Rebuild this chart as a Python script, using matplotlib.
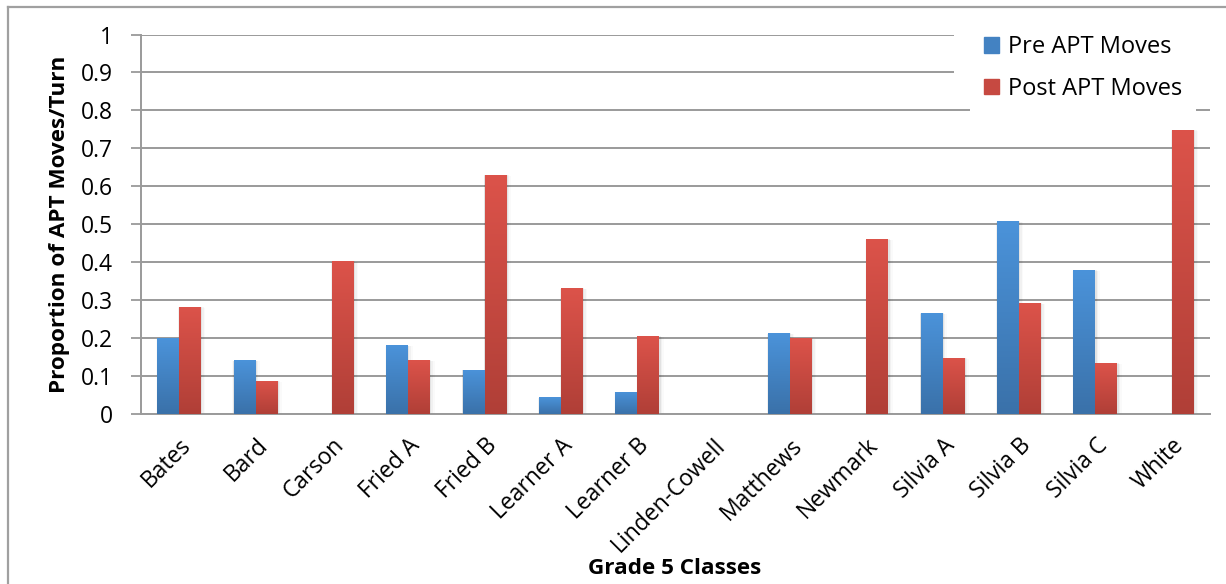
import numpy as np
import matplotlib.pyplot as plt
import matplotlib.patches as mpatches
from matplotlib.lines import Line2D
from matplotlib.colors import LinearSegmentedColormap

# Class names and proportion of APT moves per turn
classes = ["Bates", "Bard", "Carson", "Fried A", "Fried B", "Learner A", "Learner B",
           "Linden-Cowell", "Matthews", "Newmark", "Silvia A", "Silvia B", "Silvia C", "White"]
preMoves = [0.20, 0.141, 0.0, 0.181, 0.117, 0.044, 0.059, 0.0, 0.213, 0.0, 0.266, 0.508, 0.379, 0.0]
postMoves = [0.282, 0.087, 0.403, 0.142, 0.630, 0.332, 0.205, 0.0, 0.200, 0.461, 0.148, 0.292, 0.134, 0.749]
yTicks = [0, 0.1, 0.2, 0.3, 0.4, 0.5, 0.6, 0.7, 0.8, 0.9, 1]
yTickLabels = ["0", "0.1", "0.2", "0.3", "0.4", "0.5", "0.6", "0.7", "0.8", "0.9", "1"]

plt.rcParams.update({"font.family": ["Open Sans", "DejaVu Sans"]})

# gradient colours (top -> bottom) for both series
blueGrad = LinearSegmentedColormap.from_list("blueGrad", ["#3a71a9", "#4b93da"])
redGrad = LinearSegmentedColormap.from_list("redGrad", ["#b03f37", "#dc534a"])
gridColor = "#9a9a9a"

fig = plt.figure(figsize=(12.26, 5.84), dpi=100)
ax = fig.add_axes([141 / 1226, 1 - 414 / 584, (1210 - 141) / 1226, (414 - 34.5) / 584])

x = np.arange(len(classes))
w = 0.288


def gradientBars(xpos, values, cmap):
    bars = ax.bar(xpos, values, width=w, color=cmap(0.5), zorder=3)
    grad = np.linspace(0, 1, 256).reshape(-1, 1)
    for b in bars:
        h = b.get_height()
        if h <= 0:
            continue
        x0 = b.get_x()
        # faint soft shadow behind the bar
        for k, a in zip([0.02, 0.045, 0.07], [0.06, 0.035, 0.02]):
            ax.add_patch(mpatches.Rectangle((x0 - k * 0.2, -0.006), w + k * 1.0, h + 0.006 - k * 0.03,
                                            color="black", alpha=a, lw=0, zorder=2))
        im = ax.imshow(grad, cmap=cmap, aspect="auto", extent=[x0, x0 + w, 0, h],
                       origin="lower", zorder=3.5, interpolation="bilinear")
        im.set_clip_path(b)
    return bars


gradientBars(x - w / 2, preMoves, blueGrad)
gradientBars(x + w / 2, postMoves, redGrad)

ax.set_xlim(-0.5, len(classes) - 0.5)
ax.set_ylim(0, 1)
ax.set_yticks(yTicks)
ax.set_yticklabels(yTickLabels)
ax.set_xticks(x)
ax.set_xticklabels(classes, rotation=45, ha="right", rotation_mode="anchor")
ax.tick_params(axis="x", length=0, pad=14, labelsize=16.5)
ax.tick_params(axis="y", length=7, width=1.3, color=gridColor, pad=13, labelsize=16.5)
ax.grid(axis="y", color=gridColor, lw=1.4, zorder=1)
ax.set_axisbelow(True)
for s in ["top", "right"]:
    ax.spines[s].set_visible(False)
for s in ["left", "bottom"]:
    ax.spines[s].set_color(gridColor)
    ax.spines[s].set_linewidth(1.4)

ax.set_ylabel("Proportion of APT Moves/Turn", fontsize=16.2, fontweight="bold", labelpad=8)
fig.text(675 / 1226, 1 - 568 / 584, "Grade 5 Classes", ha="center", va="center",
         fontsize=16.2, fontweight="bold")

# white legend area hiding the upper gridlines
ax.add_patch(mpatches.Rectangle((954 / 1226, 1 - 100 / 584), 262 / 1226, 80 / 584,
                                transform=fig.transFigure, facecolor="white", edgecolor="none",
                                zorder=1.5, clip_on=False))
handles = [mpatches.Patch(color=blueGrad(0.5), label="Pre APT Moves"),
           mpatches.Patch(color=redGrad(0.5), label="Post APT Moves")]
leg = ax.legend(handles=handles, loc="upper left", bbox_to_anchor=(958 / 1226, 1 - 9 / 584),
                bbox_transform=fig.transFigure, frameon=True, fancybox=False, framealpha=1,
                edgecolor="none", facecolor="white", fontsize=17, handlelength=0.65,
                handleheight=0.65, handletextpad=0.35, labelspacing=0.75, borderpad=0.6)
leg.set_zorder(10)

# outer chart frame
fig.add_artist(Line2D([8 / 1226, 1], [1 - 7 / 584, 1 - 7 / 584], color="#a0a0a0", lw=1.6))
fig.add_artist(Line2D([8 / 1226, 8 / 1226], [0, 1 - 7 / 584], color="#a0a0a0", lw=1.6))

fig.savefig("out.png", dpi=100)
